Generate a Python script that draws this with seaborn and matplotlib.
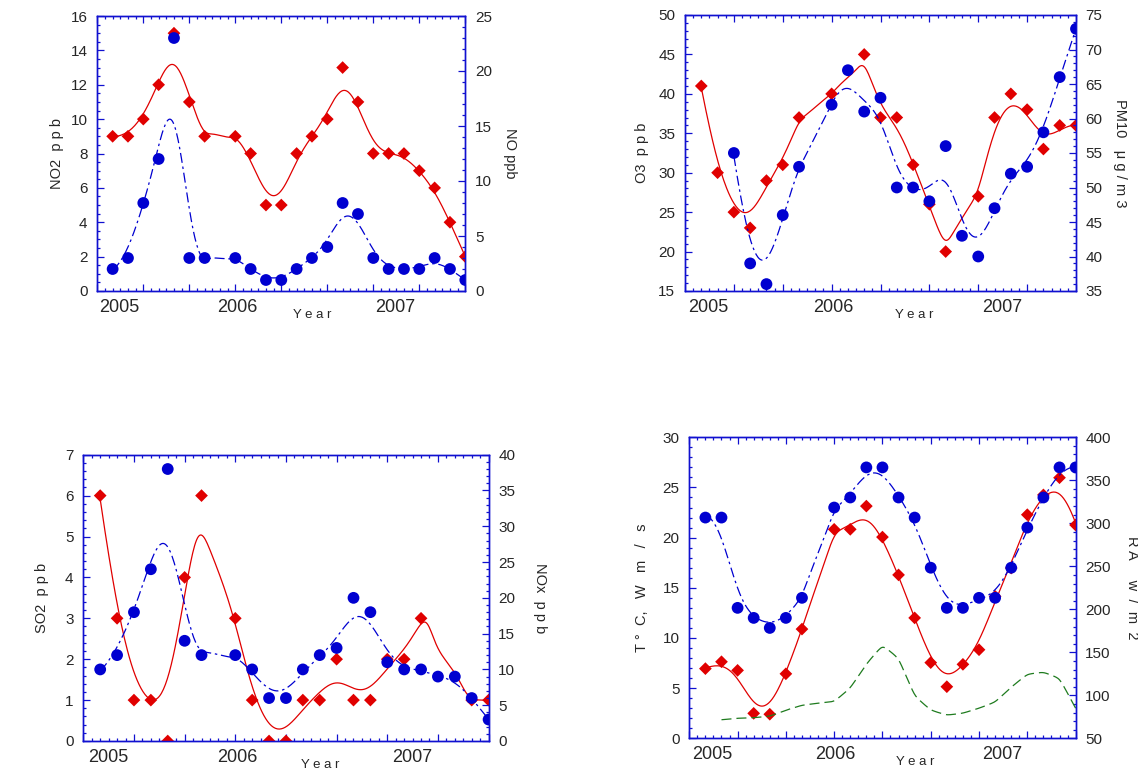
import numpy as np
import pandas as pd
import matplotlib
matplotlib.use("Agg")
import matplotlib.pyplot as plt
import matplotlib.ticker as mticker
import matplotlib.transforms as mtrans
import seaborn as sns

# monthly index, 24 months starting early 2005
months = np.arange(24)
year_labels = ["2005", "2006", "2007"]
year_pos = [0.45, 8.1, 18.45]

nan = np.nan
no2 = [9, 9, 10, 12, 15, 11, 9, nan, 9, 8, 5, 5, 8, 9, 10, 13, 11, 8, 8, 8, 7, 6, 4, 2]
no = [2, 3, 8, 12, 23, 3, 3, nan, 3, 2, 1, 1, 2, 3, 4, 8, 7, 3, 2, 2, 2, 3, 2, 1]

o3 = [41, 30, 25, 23, 29, 31, 37, nan, 40, nan, 45, 37, 37, 31, 26, 20, nan, 27, 37, 40, 38, 33, 36, 36]
pm10 = [nan, nan, 55, 39, 36, 46, 53, nan, 62, 67, 61, 63, 50, 50, 48, 56, 43, 40, 47, 52, 53, 58, 66, 73]

so2 = [6, 3, 1, 1, 0, 4, 6, nan, 3, 1, 0, 0, 1, 1, 2, 1, 1, 2, 2, 3, nan, nan, 1, 1]
nox = [10, 12, 18, 24, 38, 14, 12, nan, 12, 10, 6, 6, 10, 12, 13, 20, 18, 11, 10, 10, 9, 9, 6, 3]

temp = [22, 22, 13, 12, 11, 12, 14, nan, 23, 24, 27, 27, 24, 22, 17, 13, 13, 14, 14, 17, 21, 24, 27, 27]
ra = [131, 139, 129, 79, 78, 125, 177, nan, 293, 293, 320, 284, 240, 190, 138, 110, 136, 153, 215, 248, 310, 333, 353, 298]
wind = [nan, 1.85, 2.0, 2.05, 2.2, 2.8, 3.3, 3.5, 3.65, 5.0, 7.4, 9.3, 8.0, 4.2, 2.8, 2.3, 2.5, 3.0, 3.6, 5.1, 6.4, 6.6, 6.0, 3.0]

RED = "#e00000"
BLUE = "#0000d0"
GREEN = "#1e7b1e"
AXC = "#1010d0"

sns.set_style("white")
plt.rcParams["font.family"] = ["Liberation Sans", "DejaVu Sans"]

W, H = 1138, 772
fig = plt.figure(figsize=(W / 100, H / 100), dpi=100)


def smooth(xv, yv, h, n=400):
    # gaussian-kernel local linear fit through the monthly points
    xv = np.asarray(xv, float)
    yv = np.asarray(yv, float)
    m = ~np.isnan(yv)
    xs, ys = xv[m], yv[m]
    grid = np.linspace(xs.min(), xs.max(), n)
    fit = []
    for g in grid:
        d = xs - g
        w = np.exp(-0.5 * (d / h) ** 2)
        s0, s1, s2 = w.sum(), (w * d).sum(), (w * d * d).sum()
        t0, t1 = (w * ys).sum(), (w * d * ys).sum()
        fit.append((s2 * t0 - s1 * t1) / (s0 * s2 - s1 * s1))
    return grid, np.array(fit)


def draw_series(ax, vals, kind, h=0.8):
    df = pd.DataFrame({"month": months, "val": vals}).dropna()
    gx, gy = smooth(df["month"], df["val"], h)
    if kind == "red":
        sns.lineplot(x=gx, y=gy, ax=ax, color=RED, linewidth=0.9, errorbar=None)
        sns.scatterplot(data=df, x="month", y="val", ax=ax, marker="D", s=42,
                        color=RED, edgecolor="none", zorder=3)
    elif kind == "blue":
        sns.lineplot(x=gx, y=gy, ax=ax, color=BLUE, linewidth=0.9, errorbar=None,
                     linestyle=(0, (8, 3, 2, 3)))
        sns.scatterplot(data=df, x="month", y="val", ax=ax, marker="o", s=72,
                        color=BLUE, edgecolor="none", zorder=3)
    else:
        sns.lineplot(x=gx, y=gy, ax=ax, color=GREEN, linewidth=0.9, errorbar=None,
                     linestyle=(0, (8, 4)))


def style_axes(ax, ax2, rect, ylim, ymaj, ymin, y2lim, y2maj, y2min,
               ylabel, y2label, lpad, rpad):
    w_px = rect[2] * W
    h_px = rect[3] * H
    ax.set_xlim(-1, 23)
    ax.set_ylim(*ylim)
    ax2.set_ylim(*y2lim)
    ax.xaxis.set_major_locator(mticker.MultipleLocator(3, offset=-1))
    ax.xaxis.set_minor_locator(mticker.MultipleLocator(0.5))
    ax.xaxis.set_major_formatter(mticker.NullFormatter())
    ax.yaxis.set_major_locator(mticker.MultipleLocator(ymaj))
    ax.yaxis.set_minor_locator(mticker.MultipleLocator(ymin))
    ax2.yaxis.set_major_locator(mticker.MultipleLocator(y2maj))
    ax2.yaxis.set_minor_locator(mticker.MultipleLocator(y2min))
    ax.tick_params(axis="x", which="both", direction="in", top=True, bottom=True,
                   color=AXC, width=0.9)
    ax.tick_params(axis="x", which="major", length=5)
    ax.tick_params(axis="x", which="minor", length=2.5)
    ax.tick_params(axis="y", which="both", direction="in", left=True, right=False,
                   color=AXC, width=0.9, labelsize=11, pad=7)
    ax.tick_params(axis="y", which="major", length=5)
    ax.tick_params(axis="y", which="minor", length=2.5)
    ax2.tick_params(axis="y", which="both", direction="in", left=False, right=True,
                    color=AXC, width=0.9, labelsize=11, pad=7)
    ax2.tick_params(axis="y", which="major", length=5)
    ax2.tick_params(axis="y", which="minor", length=2.5)
    for a in (ax, ax2):
        for s in a.spines.values():
            s.set_color(AXC)
            s.set_linewidth(1.0)
            s.set_visible(True)
    ax.set_xlabel("")
    ax.set_ylabel(ylabel, fontsize=10.5, va="center")
    ax.yaxis.set_label_coords(-lpad / w_px, 0.5)
    ax2.set_ylabel(y2label, fontsize=10.5, rotation=270, va="center")
    ax2.yaxis.set_label_coords(1 + rpad / w_px, 0.5)
    tr = mtrans.blended_transform_factory(ax.transData, ax.transAxes)
    for lab, pos in zip(year_labels, year_pos):
        ax.text(pos, -8 / h_px, lab, transform=tr, ha="center", va="top", fontsize=13)
    ax.text(0.585, -24 / h_px, "Y e a r", transform=ax.transAxes, ha="center",
            va="center", fontsize=9.5)


def panel(rect):
    ax = fig.add_axes(rect)
    ax2 = ax.twinx()
    return ax, ax2


# NO2 / NO
r1 = [97.3 / W, 1 - 291 / H, 368 / W, 275 / H]
ax, ax2 = panel(r1)
draw_series(ax, no2, "red")
draw_series(ax2, no, "blue")
style_axes(ax, ax2, r1, (0, 16), 2, 0.5, (0, 25), 5, 1,
           "NO2  p p b", "NO ppb", 40, 45)

# O3 / PM10
r2 = [685 / W, 1 - 291 / H, 391 / W, 276 / H]
ax, ax2 = panel(r2)
draw_series(ax, o3, "red")
draw_series(ax2, pm10, "blue")
style_axes(ax, ax2, r2, (15, 50), 5, 1, (35, 75), 5, 1,
           "O3  p p b", "PM10   μ g / m 3", 43, 44)

# SO2 / NOx
r3 = [83.3 / W, 1 - 741 / H, 405.3 / W, 286.3 / H]
ax, ax2 = panel(r3)
draw_series(ax, so2, "red", h=0.95)
draw_series(ax2, nox, "blue", h=0.9)
style_axes(ax, ax2, r3, (0, 7), 1, 0.2, (0, 40), 5, 1,
           "SO2  p p b", "NOx  p p b", 41, 51)

# T, W / RA
r4 = [689.3 / W, 1 - 738.3 / H, 386.3 / W, 301 / H]
ax, ax2 = panel(r4)
draw_series(ax2, ra, "red")
draw_series(ax, temp, "blue")
draw_series(ax, wind, "green", h=0.45)
ax.set_zorder(ax2.get_zorder() + 1)
ax.patch.set_visible(False)
style_axes(ax, ax2, r4, (0, 30), 5, 1, (50, 400), 50, 10,
           "T °  C,   W   m   /   s", "R A     w  /  m  2", 47, 56)

fig.savefig("out.png", dpi=100)
